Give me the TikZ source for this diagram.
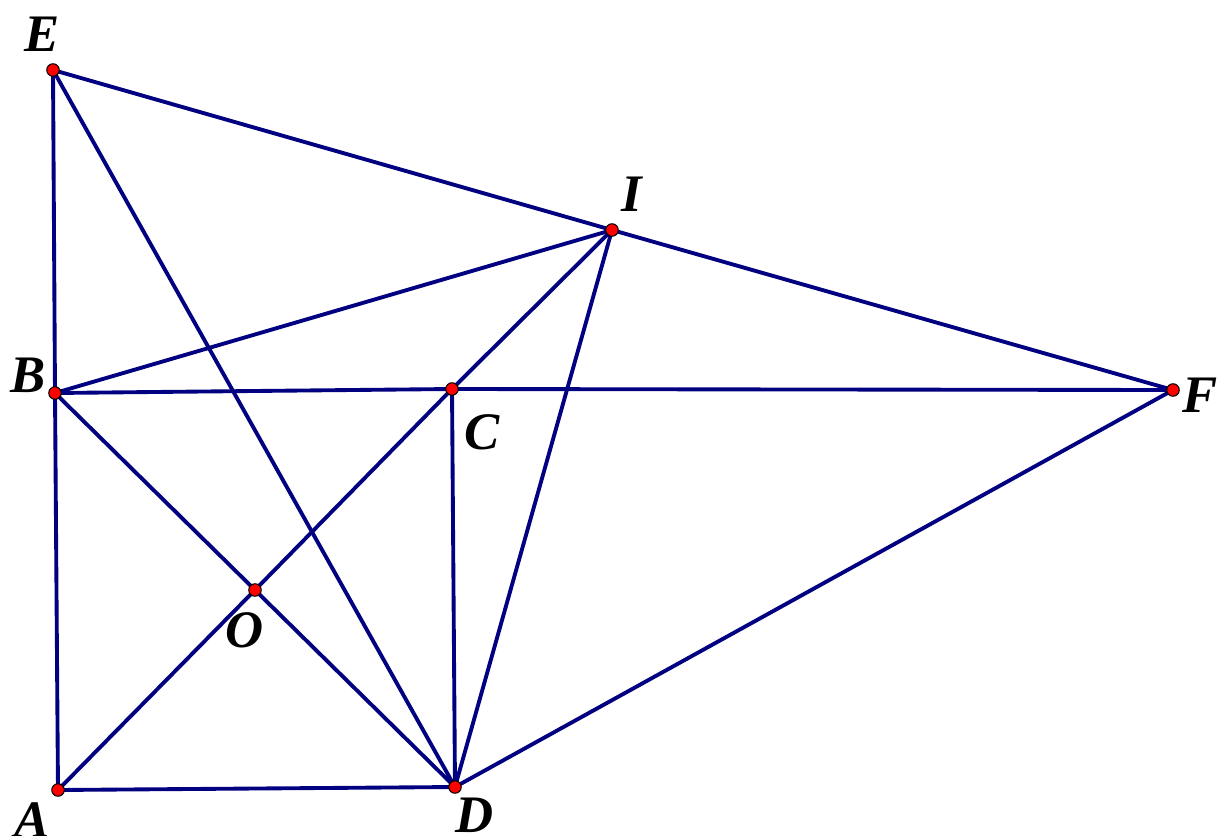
\documentclass[tikz,border=0pt]{standalone}
\usepackage{fontspec}
\setmainfont{Liberation Serif}
\definecolor{linecol}{RGB}{0,0,128}
\definecolor{ptred}{RGB}{255,0,0}
\begin{document}
\begin{tikzpicture}[x=0.02cm,y=-0.02cm,
  seg/.style={draw=linecol,line width=2.2pt,line cap=round,line join=round},
  pt/.style={circle,fill=ptred,draw=black,line width=0.6pt,inner sep=0pt,minimum size=0.25cm},
  lab/.style={font=\fontsize{30}{30}\selectfont\bfseries\itshape,inner sep=0pt}]
\useasboundingbox (0,0) rectangle (1217,835);
\coordinate (E) at (53,70);
\coordinate (I) at (612,230);
\coordinate (B) at (55,393);
\coordinate (C) at (452,389);
\coordinate (F) at (1173,390);
\coordinate (O) at (255,590);
\coordinate (A) at (58,790);
\coordinate (D) at (455,787);
\draw[seg] (E) -- (B) -- (A) -- (D);
\draw[seg] (E) -- (D);
\draw[seg] (E) -- (I) -- (F);
\draw[seg] (B) -- (I);
\draw[seg] (I) -- (C);
\draw[seg] (I) -- (D);
\draw[seg] (B) -- (C) -- (F);
\draw[seg] (C) -- (D);
\draw[seg] (B) -- (O) -- (D);
\draw[seg] (A) -- (O) -- (C);
\draw[seg] (D) -- (F);
\foreach \p in {E,I,B,C,F,O,A,D} \node[pt] (p\p) at (\p) {};
\node[lab] (lE) at (42,34) {E};
\node[lab] (lI) at (632,194) {I};
\node[lab] (lB) at (28,375) {B};
\node[lab] (lC) at (482,432) {C};
\node[lab] (lF) at (1200,395) {F};
\node[lab] (lO) at (245,630) {O};
\node[lab] (lA) at (32,820) {A};
\node[lab] (lD) at (475,815) {D};
\end{tikzpicture}
\end{document}
